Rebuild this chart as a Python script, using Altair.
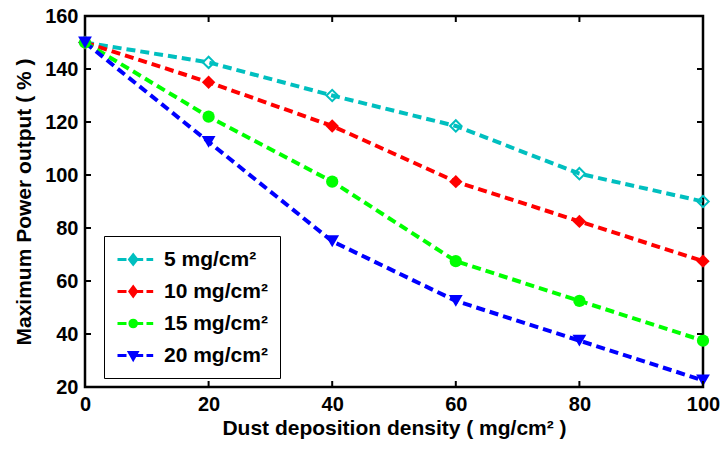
import altair as alt
import pandas as pd

# ---- data ----
density = [0, 20, 40, 60, 80, 100]
series_names = ["5 mg/cm²", "10 mg/cm²", "15 mg/cm²", "20 mg/cm²"]
power_5 = [150, 142.5, 130, 118.5, 100.5, 90]
power_10 = [150, 135, 118.5, 97.5, 82.5, 67.5]
power_15 = [150, 122, 97.5, 67.5, 52.5, 37.5]
power_20 = [150, 112.5, 75, 52.5, 37.5, 22.5]
x_ticks = [0, 20, 40, 60, 80, 100]
y_ticks = [20, 40, 60, 80, 100, 120, 140, 160]

# ---- styles ----
colors = ["#00BFBF", "#FF0000", "#00FF00", "#0000FF"]
marker_shapes = ["diamond", "diamond", "circle", "triangle-down"]
marker_filled = [False, True, True, True]
marker_sizes = [130, 180, 150, 190]

rows = []
for name, vals in zip(series_names, [power_5, power_10, power_15, power_20]):
    for d, v in zip(density, vals):
        rows.append({"density": d, "power": v, "series": name})
df = pd.DataFrame(rows)
xt = pd.DataFrame({"t": x_ticks})
yt = pd.DataFrame({"t": y_ticks})

W, H = 618, 371
FONT = "Liberation Sans"

x_scale = alt.Scale(domain=[0, 100], nice=False, zero=False)
y_scale = alt.Scale(domain=[20, 160], nice=False, zero=False)

x_axis = alt.Axis(values=x_ticks, title="Dust deposition density ( mg/cm² )",
                  ticks=False, domain=False, grid=False, labelPadding=7,
                  labelFont=FONT, labelFontSize=20, labelFontWeight="bold",
                  labelColor="black", labelFlush=False, labelOverlap=False,
                  titleFont=FONT, titleFontSize=21, titleFontWeight="bold",
                  titleColor="black", titleY=47, titleBaseline="alphabetic")
y_axis = alt.Axis(values=y_ticks, title="Maximum Power output ( % )",
                  ticks=False, domain=False, grid=False, labelPadding=7,
                  labelFont=FONT, labelFontSize=20, labelFontWeight="bold",
                  labelColor="black", labelFlush=False, labelOverlap=False,
                  titleFont=FONT, titleFontSize=21, titleFontWeight="bold",
                  titleColor="black", titleX=-55, titleY=H / 2, titleAngle=270,
                  titleAlign="center", titleBaseline="alphabetic")

X = alt.X("density:Q", scale=x_scale, axis=x_axis)
Y = alt.Y("power:Q", scale=y_scale, axis=y_axis)
COLOR = alt.Color("series:N", sort=series_names, scale=alt.Scale(range=colors), legend=None)

lines = alt.Chart(df).mark_line(strokeDash=[9, 5], strokeWidth=4).encode(
    x=X, y=Y, color=COLOR,
)

marker_layers = []
for name, shp, filled, size in zip(series_names, marker_shapes, marker_filled, marker_sizes):
    marker_layers.append(
        alt.Chart(df).transform_filter(alt.datum.series == name)
        .mark_point(shape=shp, filled=filled, size=size, strokeWidth=2, opacity=1)
        .encode(x=X, y=Y, color=COLOR)
    )

# legend glyphs: dashed line + marker (path units, scaled by sqrt(size)/2 = 10 px)
m = 0.57
dash = "M-1,0L-0.1,0M0.9,0L1.57,0M1.9,0L2.57,0"
legend_paths = [
    dash + f"M{m-0.36},0L{m},-0.45L{m+0.36},0L{m},0.45Z"
           f"M{m-0.14},0L{m},0.18L{m+0.14},0L{m},-0.18Z"
           f"M{m},-0.45L{m},0.45",
    dash + f"M{m-0.33},0L{m},-0.45L{m+0.33},0L{m},0.45Z",
    dash + f"M{m-0.33},0A0.33,0.33 0 1,0 {m+0.33},0A0.33,0.33 0 1,0 {m-0.33},0Z",
    dash + f"M{m-0.38},-0.3L{m+0.38},-0.3L{m},0.38Z",
]

leg = alt.Legend(title=None, orient="none", legendX=19, legendY=220,
                 symbolSize=400, symbolStrokeWidth=3, symbolOpacity=1,
                 labelFont=FONT, labelFontSize=21, labelFontWeight="bold",
                 labelColor="black", labelOffset=25, padding=12, rowPadding=10,
                 strokeColor="black", fillColor="white", cornerRadius=0,
                 labelLimit=400)

legend_layer = alt.Chart(df).mark_point(filled=True, size=400, strokeWidth=3, clip=True).encode(
    x=alt.value(-1000), y=alt.value(-1000),
    fill=alt.Fill("series:N", scale=alt.Scale(domain=series_names, range=colors), legend=leg),
    stroke=alt.Stroke("series:N", scale=alt.Scale(domain=series_names, range=colors), legend=leg),
    shape=alt.Shape("series:N", scale=alt.Scale(domain=series_names, range=legend_paths), legend=leg),
)

tick_kw = dict(color="black", strokeWidth=2)
XT = alt.X("t:Q", scale=x_scale, axis=x_axis)
YT = alt.Y("t:Q", scale=y_scale, axis=y_axis)
tick_bottom = alt.Chart(xt).mark_rule(**tick_kw).encode(x=XT, y=alt.value(H - 6), y2=alt.value(H))
tick_top = alt.Chart(xt).mark_rule(**tick_kw).encode(x=XT, y=alt.value(0), y2=alt.value(6))
tick_left = alt.Chart(yt).mark_rule(**tick_kw).encode(y=YT, x=alt.value(0), x2=alt.value(6))
tick_right = alt.Chart(yt).mark_rule(**tick_kw).encode(y=YT, x=alt.value(W - 6), x2=alt.value(W))

chart = alt.layer(
    lines, *marker_layers, tick_bottom, tick_top, tick_left, tick_right, legend_layer
).properties(
    width=W, height=H,
    autosize=alt.AutoSizeParams(type="none"),
    padding={"left": 85, "top": 16, "right": 19, "bottom": 62},
    background="white",
).configure_view(stroke="black", strokeWidth=2.5)

chart.save("out.html", embed_options={"renderer": "svg", "actions": False})
